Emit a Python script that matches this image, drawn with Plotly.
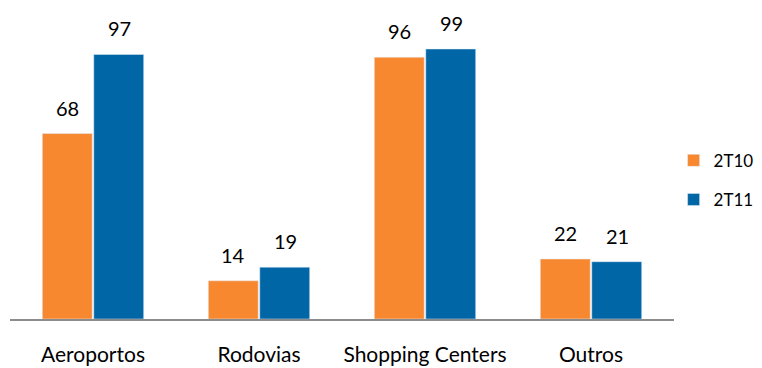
import plotly.graph_objects as go

categories = ["Aeroportos", "Rodovias", "Shopping Centers", "Outros"]
series_2t10 = [68, 14, 96, 22]
series_2t11 = [97, 19, 99, 21]
series_names = ["2T10", "2T11"]

orange = "#F7882F"
blue = "#0066A6"
font_family = "Lato, 'Open Sans', sans-serif"

fig = go.Figure()
fig.add_trace(go.Bar(x=categories, y=series_2t10, name=series_names[0],
                     marker=dict(color=orange), legendgroup="a"))
fig.add_trace(go.Bar(x=categories, y=series_2t11, name=series_names[1],
                     marker=dict(color=blue), legendgroup="b"))

# value labels above each bar
annotations = []
for vals, shift in ((series_2t10, -26), (series_2t11, 26)):
    for cat, v in zip(categories, vals):
        annotations.append(dict(x=cat, y=v, xref="x", yref="y", text=str(v),
                                showarrow=False, xshift=shift, yanchor="bottom",
                                yshift=12, font=dict(size=20, color="#000000",
                                                     family=font_family)))

fig.update_layout(
    width=762, height=368,
    margin=dict(l=10, r=88, t=10, b=49, autoexpand=False),
    paper_bgcolor="white", plot_bgcolor="white",
    barmode="group", bargap=0.38, bargroupgap=0.03,
    font=dict(family=font_family, size=20, color="#000000"),
    showlegend=True,
    legend=dict(xref="container", yref="container", x=0.884, y=0.51,
                xanchor="left", yanchor="middle",
                traceorder="grouped", tracegroupgap=14,
                font=dict(size=17), itemwidth=30),
    annotations=annotations,
    xaxis=dict(showline=True, linecolor="#8C8C8C", linewidth=2,
               ticks="", ticklabelstandoff=16, showgrid=False,
               automargin=False, tickfont=dict(size=21)),
    yaxis=dict(range=[0, 113.3], visible=False, showgrid=False,
               automargin=False),
)

fig.write_html("out.html")
